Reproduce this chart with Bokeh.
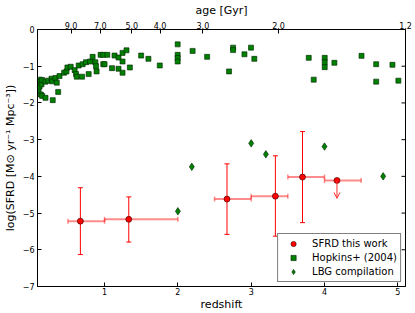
import numpy as np
from bokeh.plotting import figure
from bokeh.models import (ColumnDataSource, LinearAxis, FixedTicker, Whisker, TeeHead,
                          Arrow, OpenHead, Legend, LegendItem, Range1d)
from bokeh.embed import file_html
from bokeh.resources import INLINE

# ---- data ----
# SFRD this work (detections)
sfrd_z = [0.67, 1.33, 2.67, 3.33, 3.70]
sfrd_zlo = [0.50, 1.00, 2.50, 3.00, 3.50]
sfrd_zhi = [1.00, 2.00, 3.00, 3.50, 4.00]
sfrd_log = [-5.22, -5.17, -4.62, -4.54, -4.02]
sfrd_lo = [-6.13, -5.79, -5.58, -5.63, -5.26]
sfrd_hi = [-4.31, -4.56, -3.66, -3.44, -2.78]
# SFRD this work (upper limit)
ul_z = [4.17]
ul_zlo = [4.00]
ul_zhi = [4.50]
ul_log = [-4.11]
ul_end = [-4.60]

# LBG compilation
lbg_z = [2.00, 2.19, 3.00, 3.20, 4.00, 4.80]
lbg_log = [-4.95, -3.74, -3.10, -3.40, -3.19, -4.00]

# Hopkins+ (2004)
hop_z = [0.10, 0.113, 0.117, 0.122, 0.130, 0.140, 0.149, 0.149, 0.194, 0.194, 0.231, 0.276,
         0.285, 0.293, 0.330, 0.348, 0.367, 0.385, 0.448, 0.480, 0.493, 0.538, 0.592, 0.611,
         0.620, 0.647, 0.693, 0.701, 0.747, 0.783, 0.802, 0.837, 0.874, 0.883, 0.891, 0.946,
         0.982, 0.982, 1.000, 1.037, 1.101, 1.136, 1.190, 1.190, 1.245, 1.245, 1.245, 1.299,
         1.345, 1.499, 1.598, 1.753, 1.997, 1.997, 1.997, 1.997, 2.201, 2.399, 2.698, 2.753,
         2.753, 2.908, 2.997, 3.043, 3.785, 3.853, 4.003, 4.003, 4.003, 4.135, 4.505, 4.705,
         4.705, 4.927, 5.008]
hop_log = [-1.68, -1.555, -1.366, -1.420, -1.771, -1.493, -1.377, -1.808, -1.420, -1.862,
           -1.393, -1.339, -1.412, -1.924, -1.323, -1.447, -1.700, -1.269, -1.177, -1.142,
           -1.034, -1.015, -1.107, -1.215, -1.285, -0.980, -1.285, -0.945, -0.891, -1.215,
           -0.872, -0.745, -0.891, -0.999, -1.142, -0.691, -0.691, -0.945, -0.945, -0.691,
           -1.053, -0.710, -0.764, -1.069, -0.637, -0.872, -1.177, -0.567, -1.034, -0.710,
           -0.799, -0.980, -0.405, -0.691, -0.777, -0.872, -0.583, -0.745, -1.142, -0.494,
           -0.561, -0.675, -0.494, -0.799, -0.772, -1.366, -0.772, -0.891, -1.026, -0.907,
           -0.718, -0.945, -1.420, -0.961, -1.393]

# axes
X_MIN, X_MAX = 0.085, 5.105
Y_MIN, Y_MAX = -7, 0
x_ticks = [1, 2, 3, 4, 5]
y_ticks = [0, -1, -2, -3, -4, -5, -6, -7]
y_tick_labels = ["0", "\u22121", "\u22122", "\u22123", "\u22124", "\u22125", "\u22126", "\u22127"]
age_ticks_z = [0.543, 0.942, 1.372, 1.757, 2.341, 3.374, 5.105]
age_labels = ["9.0", "7.0", "5.0", "4.0", "3.0", "2.0", "1.2"]

FONT = "DejaVu Sans"

p = figure(width=415, height=313, output_backend="svg", toolbar_location=None,
           x_range=Range1d(X_MIN, X_MAX), y_range=Range1d(Y_MIN, Y_MAX),
           min_border_left=0, min_border_right=10, min_border_top=28, min_border_bottom=0)
p.grid.visible = False
p.outline_line_color = "black"
p.outline_line_width = 1
p.background_fill_color = "white"
p.border_fill_color = "white"


def style_axis(ax, label_standoff=2, title_standoff=1):
    ax.major_tick_in = 4
    ax.major_tick_out = 0
    ax.minor_tick_in = 0
    ax.minor_tick_out = 0
    ax.axis_line_color = "black"
    ax.major_tick_line_color = "black"
    ax.major_label_text_font = FONT
    ax.major_label_text_font_size = "8px"
    ax.major_label_text_color = "black"
    ax.major_label_standoff = label_standoff
    ax.axis_label_text_font = FONT
    ax.axis_label_text_font_size = "11px"
    ax.axis_label_text_font_style = "normal"
    ax.axis_label_text_color = "black"
    ax.axis_label_standoff = title_standoff


xa = p.xaxis[0]
xa.ticker = FixedTicker(ticks=x_ticks)
xa.axis_label = "redshift"
style_axis(xa, label_standoff=1, title_standoff=0)

ya = p.yaxis[0]
ya.ticker = FixedTicker(ticks=y_ticks)
ya.major_label_overrides = {t: l for t, l in zip(y_ticks, y_tick_labels)}
ya.axis_label = "log(SFRD [M\u2299 yr\u207b\u00b9 Mpc\u207b\u00b3])"
style_axis(ya, label_standoff=3, title_standoff=3)

top = LinearAxis(ticker=FixedTicker(ticks=age_ticks_z), axis_label="age [Gyr]",
                 major_label_overrides={t: l for t, l in zip(age_ticks_z, age_labels)})
style_axis(top, label_standoff=1, title_standoff=2)
p.add_layout(top, "above")

# inward ticks on the right spine
p.ray(x=[X_MAX] * len(y_ticks), y=y_ticks, length=4, length_units="screen",
      angle=np.pi, line_color="black", line_width=1)

# Hopkins squares
r_hop = p.scatter(hop_z, hop_log, marker="square", size=5, fill_color="#008000",
                  line_color="#002200", line_width=0.6)
# LBG diamonds
r_lbg = p.scatter(lbg_z, lbg_log, marker="diamond", size=7.5,
                  fill_color="#008000", line_color="#002200", line_width=0.6)

# error bars
src = ColumnDataSource(dict(z=sfrd_z, zlo=sfrd_zlo, zhi=sfrd_zhi, y=sfrd_log,
                            lo=sfrd_lo, hi=sfrd_hi))
ul_src = ColumnDataSource(dict(z=ul_z, zlo=ul_zlo, zhi=ul_zhi, y=ul_log, end=ul_end))

for s in (src, ul_src):
    wx = Whisker(source=s, base="y", lower="zlo", upper="zhi", dimension="width",
                 line_color="#ff0000", line_alpha=0.45, line_width=2,
                 lower_head=TeeHead(size=5, line_color="#ff0000", line_alpha=0.45, line_width=1.5),
                 upper_head=TeeHead(size=5, line_color="#ff0000", line_alpha=0.45, line_width=1.5))
    p.add_layout(wx)

wy = Whisker(source=src, base="z", lower="lo", upper="hi", dimension="height",
             line_color="#ff0000", line_width=1,
             lower_head=TeeHead(size=5, line_color="#ff0000", line_width=1),
             upper_head=TeeHead(size=5, line_color="#ff0000", line_width=1))
p.add_layout(wy)

arr = Arrow(source=ul_src, x_start="z", y_start="y", x_end="z", y_end="end",
            line_color="#ff3030", line_width=1,
            end=OpenHead(size=6, line_color="#ff3030", line_width=1))
p.add_layout(arr)

r_sfrd = p.scatter(sfrd_z, sfrd_log, marker="circle", size=6, fill_color="#ff0000",
                   line_color="#330000", line_width=0.6)
p.scatter(ul_z, ul_log, marker="circle", size=6, fill_color="#ff0000",
          line_color="#330000", line_width=0.6)

legend = Legend(items=[LegendItem(label="SFRD this work", renderers=[r_sfrd]),
                       LegendItem(label="Hopkins+ (2004)", renderers=[r_hop]),
                       LegendItem(label="LBG compilation", renderers=[r_lbg])],
                location="bottom_right")
legend.border_line_color = "black"
legend.border_line_width = 1
legend.label_text_font = FONT
legend.label_text_font_size = "10px"
legend.label_text_color = "black"
legend.padding = 3
legend.spacing = 1
legend.margin = 4
legend.label_height = 13
legend.glyph_height = 13
legend.glyph_width = 24
legend.label_standoff = 7
legend.background_fill_alpha = 1
p.add_layout(legend)

open("out.html", "w").write(file_html(p, INLINE))
